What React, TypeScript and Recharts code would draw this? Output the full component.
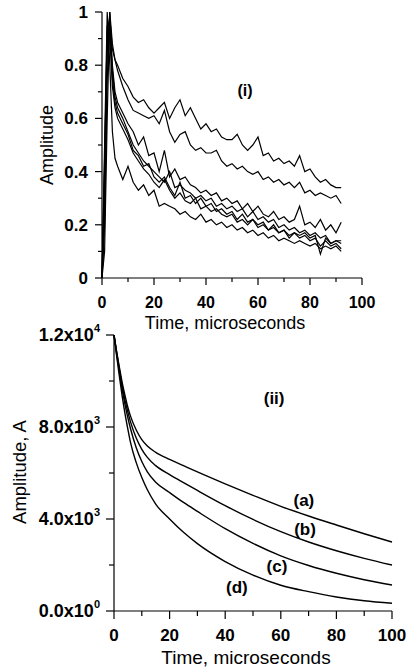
import { LineChart, Line, XAxis, YAxis, ReferenceDot } from "recharts"

const FONT = '"Liberation Sans", Arial, Helvetica, sans-serif'

// (i) measured traces
const topTimes = [0, 1, 2, 3, 4, 5, 6, 8, 10, 12, 14, 16, 18, 20, 22, 24, 26, 28, 30, 32, 34, 36, 38, 40, 42, 44, 46, 48, 50, 52, 54, 56, 58, 60, 62, 64, 66, 68, 70, 72, 74, 76, 78, 80, 82, 84, 86, 88, 90, 92]

const trace1 = [
  0, 0.45, 0.93, 0.98, 0.86, 0.82, 0.8, 0.75, 0.72, 0.68,
  0.66, 0.67, 0.64, 0.62, 0.64, 0.66, 0.6, 0.64, 0.67, 0.61,
  0.64, 0.6, 0.56, 0.58, 0.55, 0.56, 0.53, 0.52, 0.52, 0.54,
  0.5, 0.48, 0.5, 0.53, 0.46, 0.47, 0.44, 0.45, 0.43, 0.44,
  0.42, 0.46, 0.4, 0.41, 0.38, 0.36, 0.37, 0.35, 0.34, 0.34,
]
const trace2 = [
  0, 0.3, 0.85, 1.0, 0.88, 0.82, 0.78, 0.72, 0.67, 0.63,
  0.62, 0.61, 0.6, 0.61, 0.58, 0.63, 0.55, 0.51, 0.54, 0.55,
  0.5, 0.48, 0.49, 0.47, 0.47, 0.48, 0.44, 0.42, 0.43, 0.41,
  0.42, 0.4, 0.39, 0.4, 0.37, 0.38, 0.36, 0.37, 0.35, 0.36,
  0.34, 0.36, 0.32, 0.33, 0.31, 0.32, 0.31, 0.3, 0.31, 0.28,
]
const trace3 = [
  0, 0.2, 0.75, 0.95, 0.8, 0.7, 0.66, 0.62, 0.58, 0.55,
  0.5, 0.53, 0.46, 0.47, 0.4, 0.48, 0.38, 0.41, 0.37, 0.38,
  0.35, 0.34, 0.32, 0.33, 0.31, 0.32, 0.29, 0.3, 0.28, 0.29,
  0.26, 0.28, 0.25, 0.27, 0.24, 0.23, 0.25, 0.22, 0.23, 0.21,
  0.22, 0.27, 0.2, 0.21, 0.19, 0.22, 0.18, 0.2, 0.17, 0.21,
]
const trace4 = [
  0, 0.1, 0.6, 1.0, 0.78, 0.68, 0.64, 0.6, 0.55, 0.5,
  0.47, 0.44, 0.42, 0.4, 0.38, 0.36, 0.4, 0.34, 0.35, 0.33,
  0.32, 0.3, 0.31, 0.29, 0.3, 0.27, 0.28, 0.26, 0.27, 0.25,
  0.26, 0.23, 0.25, 0.22, 0.23, 0.21, 0.22, 0.19, 0.2, 0.18,
  0.19, 0.17, 0.18, 0.16, 0.17, 0.15, 0.16, 0.13, 0.14, 0.13,
]
const trace5 = [
  0, 0.25, 0.9, 0.97, 0.75, 0.66, 0.62, 0.58, 0.54, 0.48,
  0.46, 0.42, 0.43, 0.38, 0.36, 0.38, 0.34, 0.31, 0.36, 0.3,
  0.31, 0.28, 0.3, 0.27, 0.28, 0.25, 0.26, 0.24, 0.25, 0.22,
  0.24, 0.21, 0.22, 0.2, 0.21, 0.18, 0.2, 0.17, 0.18, 0.16,
  0.17, 0.15, 0.16, 0.14, 0.15, 0.12, 0.14, 0.12, 0.13, 0.11,
]
const trace6 = [
  0, 0.4, 0.95, 0.9, 0.72, 0.64, 0.6, 0.56, 0.52, 0.47,
  0.44, 0.41, 0.39, 0.36, 0.34, 0.37, 0.33, 0.3, 0.32, 0.29,
  0.28, 0.3, 0.26, 0.27, 0.25, 0.26, 0.24, 0.23, 0.24, 0.21,
  0.22, 0.2, 0.22, 0.19, 0.2, 0.18, 0.19, 0.17, 0.18, 0.15,
  0.17, 0.16, 0.17, 0.15, 0.16, 0.09, 0.15, 0.13, 0.14, 0.14,
]
const trace7 = [
  0, 0.5, 1.0, 0.8, 0.55, 0.45, 0.42, 0.37, 0.42, 0.36,
  0.33, 0.35, 0.31, 0.33, 0.27, 0.28, 0.27, 0.26, 0.24, 0.25,
  0.23, 0.22, 0.24, 0.21, 0.22, 0.2, 0.21, 0.19, 0.2, 0.18,
  0.19, 0.17, 0.18, 0.16, 0.17, 0.15, 0.16, 0.14, 0.15, 0.14,
  0.13, 0.14, 0.13, 0.12, 0.13, 0.11, 0.12, 0.11, 0.12, 0.1,
]

const topXTicks = [0, 10, 20, 30, 40, 50, 60, 70, 80, 90, 100]
const topXLabels = ["0", "", "20", "", "40", "", "60", "", "80", "", "100"]
const topYTicks = [0, 0.1, 0.2, 0.3, 0.4, 0.5, 0.6, 0.7, 0.8, 0.9, 1]
const topYLabels = ["0", "", "0.2", "", "0.4", "", "0.6", "", "0.8", "", "1"]

// (ii) simulated curves
const simTimes = [0, 1, 2, 3, 4, 5, 6, 8, 10, 12, 15, 20, 25, 30, 40, 50, 60, 70, 80, 90, 100]
const curveA = [12000, 11250, 10550, 9900, 9350, 8850, 8450, 7870, 7450, 7170, 6900, 6590, 6320, 6050, 5530, 5030, 4550, 4130, 3740, 3360, 3000]
const curveB = [12000, 11200, 10450, 9750, 9150, 8650, 8200, 7520, 7030, 6680, 6320, 5930, 5580, 5240, 4580, 3980, 3450, 3000, 2620, 2290, 2000]
const curveC = [12000, 11150, 10350, 9600, 8950, 8400, 7900, 7100, 6500, 6050, 5600, 5150, 4720, 4330, 3580, 2940, 2400, 1980, 1640, 1360, 1130]
const curveD = [12000, 11050, 10150, 9300, 8550, 7900, 7300, 6450, 5800, 5270, 4650, 4000, 3420, 2930, 2150, 1560, 1120, 840, 610, 445, 335]

const simXTicks = [0, 10, 20, 30, 40, 50, 60, 70, 80, 90, 100]
const simXLabels = ["0", "", "20", "", "40", "", "60", "", "80", "", "100"]
const simYTicks = [0, 2000, 4000, 6000, 8000, 10000, 12000]
const simYMantissa = ["0.0x10", "", "4.0x10", "", "8.0x10", "", "1.2x10"]
const simYExponent = ["0", "", "3", "", "3", "", "4"]

const topSeries = [trace1, trace2, trace3, trace4, trace5, trace6, trace7]
const topRows = topTimes.map((t, i) => {
  const row: Record<string, number> = { t }
  topSeries.forEach((s, k) => (row[`s${k}`] = s[i]))
  return row
})

const simRows = simTimes.map((t, i) => ({ t, a: curveA[i], b: curveB[i], c: curveC[i], d: curveD[i] }))

function xTick(labels: string[], fontSize: number, major: number, minor: number) {
  return (props: any) => {
    const { x, y, index } = props
    const label = labels[index]
    return (
      <g>
        <line x1={x} y1={y} x2={x} y2={y + (label ? major : minor)} stroke="#000" strokeWidth={1.2} />
        {label && (
          <text x={x} y={y + 24} textAnchor="middle" dominantBaseline="central" fontSize={fontSize} fontWeight="bold" fontFamily={FONT} fill="#000">
            {label}
          </text>
        )}
      </g>
    )
  }
}

function yTick(labels: string[], exps: string[] | null, fontSize: number, major: number, minor: number, gap: number) {
  return (props: any) => {
    const { x, y, index } = props
    const label = labels[index]
    return (
      <g>
        <line x1={x - (label ? major : minor)} y1={y} x2={x} y2={y} stroke="#000" strokeWidth={1.2} />
        {label && (
          <text x={x - gap} y={y} textAnchor="end" dominantBaseline="central" fontSize={fontSize} fontWeight="bold" fontFamily={FONT} fill="#000">
            <tspan>{label}</tspan>
            {exps && (
              <tspan dy={-7} fontSize={11}>
                {exps[index]}
              </tspan>
            )}
          </text>
        )}
      </g>
    )
  }
}

const noteStyle = { fontSize: 17, fontWeight: "bold", fill: "#000", fontFamily: FONT }

export default function App() {
  return (
    <div style={{ position: "absolute", left: 0, top: 0, width: 409, height: 668, background: "#fff", fontFamily: FONT }}>
      <div style={{ position: "absolute", left: 0, top: 0 }}>
        <LineChart width={409} height={340} data={topRows} margin={{ top: 12, right: 47, bottom: 0, left: 0 }}>
          <XAxis
            dataKey="t"
            type="number"
            domain={[0, 100]}
            ticks={topXTicks}
            interval={0}
            height={62}
            tickSize={0}
            tickMargin={0}
            tickLine={false}
            axisLine={{ stroke: "#000", strokeWidth: 1.2 }}
            tick={xTick(topXLabels, 16, 7, 4)}
          />
          <YAxis
            type="number"
            domain={[0, 1]}
            ticks={topYTicks}
            interval={0}
            width={102}
            tickSize={0}
            tickMargin={0}
            tickLine={false}
            axisLine={{ stroke: "#000", strokeWidth: 1.2 }}
            tick={yTick(topYLabels, null, 17, 7, 4, 14)}
          />
          {topSeries.map((_, k) => (
            <Line key={k} dataKey={`s${k}`} type="linear" stroke="#000" strokeWidth={1.2} dot={false} isAnimationActive={false} />
          ))}
          <ReferenceDot x={55} y={0.707} r={0} fill="none" stroke="none" label={{ value: "(i)", position: "center", ...noteStyle, fontSize: 16 }} />
        </LineChart>
      </div>
      <div style={{ position: "absolute", left: 0, top: 320 }}>
        <LineChart width={409} height={348} data={simRows} margin={{ top: 15, right: 17, bottom: 0, left: 0 }}>
          <XAxis
            dataKey="t"
            type="number"
            domain={[0, 100]}
            ticks={simXTicks}
            interval={0}
            height={57}
            tickSize={0}
            tickMargin={0}
            tickLine={false}
            axisLine={{ stroke: "#000", strokeWidth: 1.2 }}
            tick={xTick(simXLabels, 17, 8, 5)}
          />
          <YAxis
            type="number"
            domain={[0, 12000]}
            ticks={simYTicks}
            interval={0}
            width={114}
            tickSize={0}
            tickMargin={0}
            tickLine={false}
            axisLine={{ stroke: "#000", strokeWidth: 1.2 }}
            tick={yTick(simYMantissa, simYExponent, 18, 8, 5, 14)}
          />
          <Line dataKey="a" type="monotone" stroke="#000" strokeWidth={1.4} dot={false} isAnimationActive={false} />
          <Line dataKey="b" type="monotone" stroke="#000" strokeWidth={1.4} dot={false} isAnimationActive={false} />
          <Line dataKey="c" type="monotone" stroke="#000" strokeWidth={1.4} dot={false} isAnimationActive={false} />
          <Line dataKey="d" type="monotone" stroke="#000" strokeWidth={1.4} dot={false} isAnimationActive={false} />
          <ReferenceDot x={57.6} y={9260} r={0} fill="none" stroke="none" label={{ value: "(ii)", position: "center", ...noteStyle }} />
          <ReferenceDot x={68.3} y={4830} r={0} fill="none" stroke="none" label={{ value: "(a)", position: "center", ...noteStyle }} />
          <ReferenceDot x={68.7} y={3560} r={0} fill="none" stroke="none" label={{ value: "(b)", position: "center", ...noteStyle }} />
          <ReferenceDot x={58.6} y={1960} r={0} fill="none" stroke="none" label={{ value: "(c)", position: "center", ...noteStyle }} />
          <ReferenceDot x={44.2} y={1040} r={0} fill="none" stroke="none" label={{ value: "(d)", position: "center", ...noteStyle }} />
        </LineChart>
      </div>
      <svg width={409} height={668} style={{ position: "absolute", left: 0, top: 0, pointerEvents: "none" }}>
        <g fontFamily={FONT} fill="#000" textAnchor="middle" dominantBaseline="central">
          <text x={225} y={323} fontSize={18}>Time, microseconds</text>
          <text x={47} y={145} fontSize={18} transform="rotate(-90 47 145)">Amplitude</text>
          <text x={246} y={657} fontSize={19}>Time, microseconds</text>
          <text x={19} y={472} fontSize={18.5} transform="rotate(-90 19 472)">Amplitude, A</text>
        </g>
      </svg>
    </div>
  )
}
